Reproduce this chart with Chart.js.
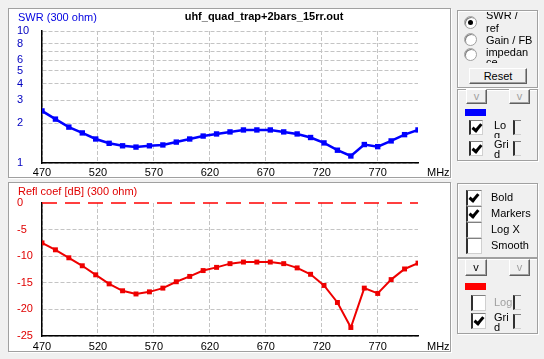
<!DOCTYPE html>
<html>
<head>
<meta charset="utf-8">
<script src="https://cdn.jsdelivr.net/npm/chart.js@4"></script>
<style>
  html, body { margin:0; padding:0; }
  body { width:544px; height:359px; background:#f0f0f0; position:relative; overflow:hidden;
         font-family:"Liberation Sans", Arial, sans-serif; font-size:11px; color:#000; }
  .panel { position:absolute; background:#fff; border:1px solid #a0a0a0;
           box-shadow: 1px 1px 0 #ffffff; }
  .panel canvas { position:absolute; left:0; top:0; }
  .txt { position:absolute; white-space:nowrap; line-height:13px; }
  .grp { position:absolute; border:1px solid #a0a0a0; box-shadow: inset 1px 1px 0 #fff, 1px 1px 0 #fff; box-sizing:border-box; }
  .radio { position:absolute; width:13px; height:13px; border-radius:50%; background:#fff;
           border:1px solid #a0a0a0; box-sizing:border-box; box-shadow: inset 1px 1px 0 #808080; }
  .radio.on::after { content:""; position:absolute; left:3px; top:3px; width:5px; height:5px; border-radius:50%; background:#000; }
  .btn { position:absolute; background:#f0f0f0; box-sizing:border-box; text-align:center;
         border:1px solid; border-color:#ffffff #606060 #606060 #ffffff; box-shadow: inset -1px -1px 0 #a0a0a0; }
  .dis { color:#a0a0a0; }
  .cb { position:absolute; width:14px; height:15px; background:#fff; box-sizing:border-box;
        border-left:2px solid #303030; border-top:1px solid #808080; border-right:1px solid #d0d0d0; border-bottom:1px solid #d0d0d0; }
  .cb.on::after { content:""; position:absolute; left:3px; top:1px; width:3px; height:7px;
        border-right:3px solid #000; border-bottom:3px solid #000; transform:rotate(40deg); }
  .brk { position:absolute; width:8px; height:15px; box-sizing:border-box;
        border-left:2px solid #303030; border-top:1px solid #808080; border-bottom:1px solid #d0d0d0; }
  .clip { position:absolute; overflow:hidden; }
  .clip div { position:relative; line-height:10px; white-space:nowrap; }
</style>
</head>
<body>

<div class="panel" style="left:8px; top:8px; width:441px; height:168px;">
  <canvas id="swrChart" width="441" height="168"></canvas>
</div>
<div class="panel" style="left:8px; top:182px; width:441px; height:168px;">
  <canvas id="reflChart" width="441" height="168"></canvas>
</div>

<div class="txt" style="left:18px; top:11px; color:#0000e0;">SWR (300 ohm)</div>
<div class="txt" style="left:264px; top:10px; transform:translateX(-50%); font-weight:bold;">uhf_quad_trap+2bars_15rr.out</div>
<div class="txt" style="left:427px; top:166px;">MHz</div>
<div class="txt" style="left:18px; top:185px; color:#e00000;">Refl coef [dB] (300 ohm)</div>
<div class="txt" style="left:427px; top:340px;">MHz</div>

<!-- right control panel -->
<div class="grp" style="left:457px; top:10px; width:81px; height:78px;"></div>
<div class="radio on" style="left:464px; top:16px;"></div>
<div class="radio" style="left:464px; top:33px;"></div>
<div class="radio" style="left:464px; top:48px;"></div>
<div class="clip" style="left:486px; top:12px; width:50px; height:22px;"><div style="top:-2px">SWR /<br><span style="position:relative;top:3px">ref</span></div></div>
<div class="txt" style="left:486px; top:34px;">Gain / FB</div>
<div class="clip" style="left:486px; top:48px; width:50px; height:15px;"><div style="top:-1px">impedan<br>ce</div></div>
<div class="btn" style="left:469px; top:68px; width:58px; height:16px; line-height:14px;">Reset</div>

<div class="grp" style="left:457px; top:89px; width:81px; height:72px;"></div>
<div class="btn dis" style="left:466px; top:89px; width:21px; height:15px; line-height:13px;">v</div>
<div class="btn dis" style="left:509px; top:89px; width:21px; height:15px; line-height:13px;">v</div>
<div style="position:absolute; left:465px; top:109px; width:21px; height:7px; background:#0000ff;"></div>
<div class="cb on" style="left:469px; top:120px;"></div>
<div class="clip" style="left:494px; top:119px; width:16px; height:19px;"><div style="top:1px">Lo<br>g</div></div>
<div class="brk" style="left:513px; top:120px;"></div>
<div class="cb on" style="left:469px; top:141px;"></div>
<div class="clip" style="left:494px; top:139px; width:16px; height:19px;"><div style="top:0px">Gri<br>d</div></div>
<div class="brk" style="left:513px; top:141px;"></div>

<div class="grp" style="left:457px; top:183px; width:81px; height:75px;"></div>
<div class="cb on" style="left:466px; top:190px; width:16px; height:16px;"></div>
<div class="cb on" style="left:466px; top:206px; width:16px; height:16px;"></div>
<div class="cb" style="left:466px; top:222px; width:16px; height:16px;"></div>
<div class="cb" style="left:466px; top:238px; width:16px; height:16px;"></div>
<div class="txt" style="left:491px; top:191px;">Bold</div>
<div class="txt" style="left:491px; top:207px;">Markers</div>
<div class="txt" style="left:491px; top:223px;">Log X</div>
<div class="txt" style="left:491px; top:239px;">Smooth</div>

<div class="grp" style="left:457px; top:258px; width:81px; height:76px;"></div>
<div class="btn" style="left:465px; top:259px; width:22px; height:17px; line-height:15px;">v</div>
<div class="btn dis" style="left:509px; top:259px; width:21px; height:17px; line-height:15px;">v</div>
<div style="position:absolute; left:465px; top:283px; width:21px; height:7px; background:#ff0000;"></div>
<div class="cb" style="left:471px; top:295px; width:15px; height:16px;"></div>
<div class="txt dis" style="left:494px; top:296px;">Log</div>
<div class="brk" style="left:513px; top:295px;"></div>
<div class="cb on" style="left:471px; top:313px; width:15px; height:16px;"></div>
<div class="clip" style="left:494px; top:312px; width:16px; height:19px;"><div style="top:0px">Gri<br>d</div></div>
<div class="brk" style="left:513px; top:314px;"></div>

<script>
// ---- data ----
const freqMHz = [470,482,494,506,518,530,542,554,566,578,590,602,614,626,638,650,662,674,686,698,710,722,734,746,758,770,782,794,806];
const swr = [2.48,2.15,1.87,1.69,1.52,1.41,1.35,1.32,1.35,1.37,1.44,1.52,1.60,1.66,1.72,1.78,1.78,1.78,1.72,1.66,1.56,1.42,1.25,1.13,1.38,1.33,1.47,1.64,1.78];
const reflDb = [-7.5,-8.8,-10.3,-11.8,-13.5,-15.2,-16.5,-17.1,-16.7,-16.0,-14.8,-13.8,-12.7,-12.1,-11.4,-11.1,-11.1,-11.1,-11.4,-12.2,-13.4,-15.5,-18.7,-23.4,-16.0,-17.0,-14.4,-12.4,-11.3];
const freqTicks = [470,520,570,620,670,720,770];
const swrTicks = [1,2,3,4,5,6,7,8,10];
const swrTickLabels = ['1','2','3','4','5','6','','8','10'];
const reflTicks = [0,-5,-10,-15,-20,-25];
const reflTickLabels = ['0','-5','-10','-15','-20','-25'];
const zeroRefLine = [0,0];
const freqRange = [470,806];

const FONT = {family:'"Liberation Sans", Arial, sans-serif', size:11};
const GRID = '#c4c4c4';

function xScale(height, pad) {
  return {
    type:'linear', min:freqRange[0], max:freqRange[1],
    afterBuildTicks: s => { s.ticks = freqTicks.map(v => ({value:v})); },
    afterFit: s => { s.height = height; },
    ticks:{ autoSkip:false, maxRotation:0, padding:pad, color:'#000', font:FONT,
            callback: v => String(v) },
    grid:{ color:GRID, drawTicks:false, lineWidth:1 },
    border:{ display:true, color:'#000', width:1.5, dash:[4,2] }
  };
}

new Chart(document.getElementById('swrChart'), {
  type:'line',
  data:{ datasets:[{
    data: freqMHz.map((f,i) => ({x:f, y:swr[i]})),
    borderColor:'#0000ff', backgroundColor:'#0000ff', borderWidth:2.5,
    pointStyle:'rect', pointRadius:3.8, pointBorderWidth:0, tension:0
  }]},
  options:{
    responsive:false, animation:false,
    layout:{ padding:{left:8, top:22, right:32, bottom:0} },
    plugins:{ legend:{display:false}, tooltip:{enabled:false} },
    scales:{
      x: xScale(14, 3),
      y:{
        type:'logarithmic', min:1, max:10,
        afterBuildTicks: s => { s.ticks = swrTicks.map(v => ({value:v})); },
        afterFit: s => { s.width = 25; },
        ticks:{ crossAlign:'far', padding:0, color:'#0000c0', font:FONT,
                callback: v => swrTickLabels[swrTicks.indexOf(v)] },
        grid:{ color:GRID, drawTicks:false, lineWidth:1 },
        border:{ display:true, color:'#000', width:1.5, dash:[4,2] }
      }
    }
  }
});

new Chart(document.getElementById('reflChart'), {
  type:'line',
  data:{ datasets:[
    {
      data: freqMHz.map((f,i) => ({x:f, y:reflDb[i]})),
      borderColor:'#ee0000', backgroundColor:'#ee0000', borderWidth:2,
      pointStyle:'rect', pointRadius:3.5, pointBorderWidth:0, tension:0
    },
    {
      data: freqRange.map((f,i) => ({x:f, y:zeroRefLine[i]})),
      borderColor:'#ff0000', borderWidth:1.5, borderDash:[15,8], pointRadius:0, tension:0,
      clip:false
    }
  ]},
  options:{
    responsive:false, animation:false,
    layout:{ padding:{left:8, top:20, right:32, bottom:0} },
    plugins:{ legend:{display:false}, tooltip:{enabled:false} },
    scales:{
      x: xScale(15, 4),
      y:{
        type:'linear', min:-25, max:0,
        afterBuildTicks: s => { s.ticks = reflTicks.map(v => ({value:v})); },
        afterFit: s => { s.width = 25; },
        ticks:{ crossAlign:'far', padding:0, color:'#e00000', font:FONT,
                callback: v => reflTickLabels[reflTicks.indexOf(v)] },
        grid:{ color: c => (c.tick && c.tick.value === 0) ? 'rgba(0,0,0,0)' : GRID, drawTicks:false, lineWidth:1 },
        border:{ display:true, color:'#000', width:1.5, dash:[4,2] }
      }
    }
  }
});
</script>
</body>
</html>
